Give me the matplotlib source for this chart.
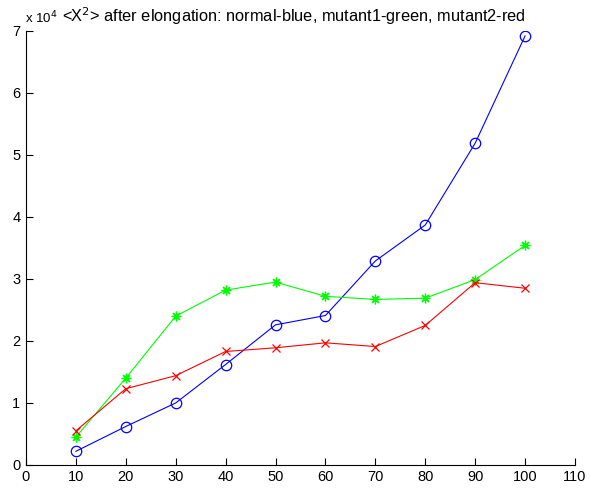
import numpy as np
import matplotlib.pyplot as plt

plt.rcParams['font.family'] = ['Liberation Sans', 'DejaVu Sans']

# data (values in units of 1e4)
elong = [10, 20, 30, 40, 50, 60, 70, 80, 90, 100]
normal = [0.22, 0.62, 1.00, 1.62, 2.26, 2.41, 3.29, 3.87, 5.19, 6.92]
mutant1 = [0.45, 1.40, 2.40, 2.82, 2.95, 2.72, 2.67, 2.69, 2.99, 3.54]
mutant2 = [0.55, 1.23, 1.44, 1.83, 1.89, 1.97, 1.91, 2.25, 2.94, 2.85]

xticks = list(range(0, 111, 10))
yticks = list(range(0, 8))

fig = plt.figure(figsize=(5.9, 4.92), dpi=100)
ax = fig.add_axes([0.044, 0.055, 0.9305, 0.882])

ax.plot(elong, normal, color=(0, 0, 1), lw=0.8, marker='o', ms=7.5,
        mfc='none', mec=(0, 0, 1), mew=0.9)
ax.plot(elong, mutant1, color=(0, 1, 0), lw=0.8, marker=(8, 2, 0), ms=7,
        mec=(0, 1, 0), mew=0.9)
ax.plot(elong, mutant2, color=(1, 0, 0), lw=0.8, marker='x', ms=6,
        mec=(1, 0, 0), mew=0.9)

ax.set_xlim(0, 110)
ax.set_ylim(0, 7)
ax.set_xticks(xticks)
ax.set_yticks(yticks)
ax.tick_params(direction='in', length=5, width=0.8, labelsize=10.5, pad=4)
ax.spines['top'].set_visible(False)
ax.spines['right'].set_visible(False)

# title and exponent label, placed like the matlab figure
fig.text(0.498, 0.955, '<X$^2$> after elongation: normal-blue, mutant1-green, mutant2-red',
         fontsize=11.8, ha='center', va='baseline')
fig.text(0.042, 0.953, r'x 10$^4$', fontsize=9.5, ha='left', va='baseline')

fig.savefig('out.png', dpi=100)
